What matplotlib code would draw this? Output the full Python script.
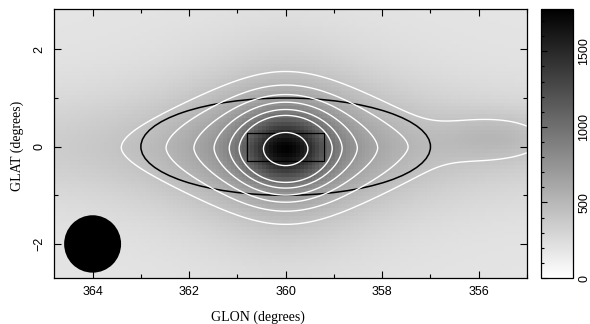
import numpy as np
import matplotlib
matplotlib.use("Agg")
import matplotlib.pyplot as plt
from matplotlib.patches import Ellipse, Rectangle, Circle
from matplotlib.ticker import MultipleLocator

# map extent (degrees)
glon_limits = [364.8, 355.0]
glat_limits = [-2.7, 2.83]
pixel_size = 0.08

# emission components
background_level = 190
plane_amp = 129
plane_width = 0.8
core_amp = 805
core_width = 0.56
core_flattening = 0.81
core_glat = -0.058
disk_amp = 644
disk_soft = 1.5
disk_scale = 1.2
disk_glat_width = 1.46
disk_glat_power = 1.6
spur_amp = 150
spur_centre = [355.6, 0.2]
spur_widths = [0.8, 0.35]

contour_levels = [420, 520, 620, 730, 870, 1010, 1500]
colour_max = 1780
colour_ticks = [0, 500, 1000, 1500]

# overlays
region_ellipse = [360.0, 0.0, 6.0, 2.0]     # centre l, b, width, height
source_box = [359.2, -0.3, 1.6, 0.58]       # l, b, width, height
beam = [364.0, -2.0, 0.59]                  # l, b, radius


def emission(glon, glat):
    """
    Returns the map intensity at the given positions.
    """
    dl = glon - 360.0
    f = background_level + plane_amp * np.exp(-glat**2 / (2 * plane_width**2))
    f = f + core_amp * np.exp(-(dl**2 + ((glat - core_glat) / core_flattening)**2)
                              / (2 * core_width**2))
    f = f + disk_amp * np.exp(-(np.sqrt(dl**2 + disk_soft**2) - disk_soft) / disk_scale
                              - (np.abs(glat - core_glat / 2) / disk_glat_width) ** disk_glat_power)
    f = f + spur_amp * np.exp(-(glon - spur_centre[0])**2 / (2 * spur_widths[0]**2)
                              - (glat - spur_centre[1])**2 / (2 * spur_widths[1]**2))
    return f


def style_ticks(ax, cax):
    ax.xaxis.set_major_locator(MultipleLocator(2))
    ax.xaxis.set_minor_locator(MultipleLocator(1))
    ax.yaxis.set_major_locator(MultipleLocator(2))
    ax.yaxis.set_minor_locator(MultipleLocator(1))
    ax.tick_params(which="both", direction="in", top=True, right=True, width=0.8)
    ax.tick_params(which="major", length=5)
    ax.tick_params(which="minor", length=2.8)
    ax.tick_params(axis="x", pad=6)
    ax.tick_params(axis="y", pad=6, labelrotation=90)
    for t in ax.get_xticklabels() + ax.get_yticklabels():
        t.set_fontfamily("Liberation Sans")
        t.set_fontsize(9)
    for t in ax.get_yticklabels():
        t.set_va("center")

    cax.set_yticks(colour_ticks)
    cax.yaxis.set_minor_locator(MultipleLocator(100))
    cax.tick_params(which="both", direction="in", left=True, right=False,
                    labelleft=False, labelright=True, labelrotation=90,
                    width=0.8, pad=4)
    cax.tick_params(which="major", length=4)
    cax.tick_params(which="minor", length=2.5)
    for t in cax.get_yticklabels():
        t.set_fontfamily("Liberation Sans")
        t.set_fontsize(9)
        t.set_va("center")


def main():
    n_l = int(round(abs(glon_limits[1] - glon_limits[0]) / pixel_size))
    n_b = int(round((glat_limits[1] - glat_limits[0]) / pixel_size))
    l_edges = np.linspace(glon_limits[0], glon_limits[1], n_l + 1)
    b_edges = np.linspace(glat_limits[0], glat_limits[1], n_b + 1)
    l_mid = 0.5 * (l_edges[1:] + l_edges[:-1])
    b_mid = 0.5 * (b_edges[1:] + b_edges[:-1])
    image = emission(l_mid[None, :], b_mid[:, None])

    l_fine = np.linspace(glon_limits[0], glon_limits[1], 400)
    b_fine = np.linspace(glat_limits[0], glat_limits[1], 240)
    smooth = emission(l_fine[None, :], b_fine[:, None])

    fig = plt.figure(figsize=(5.9, 3.24), dpi=100)
    ax = fig.add_axes([54 / 590, 46 / 324, 473 / 590, 269 / 324])
    cax = fig.add_axes([541 / 590, 46 / 324, 32 / 590, 269 / 324])

    mesh = ax.pcolormesh(l_edges, b_edges, image, cmap="gray_r",
                         vmin=0, vmax=colour_max)
    ax.contour(l_fine, b_fine, smooth, levels=contour_levels,
               colors="white", linewidths=1.0)

    ax.add_patch(Ellipse(region_ellipse[:2], region_ellipse[2], region_ellipse[3],
                         fill=False, ec="black", lw=1.1))
    ax.add_patch(Rectangle(source_box[:2], source_box[2], source_box[3],
                           fill=False, ec="black", lw=0.9))
    ax.add_patch(Circle(beam[:2], beam[2], fc="black", ec="none"))

    ax.set_xlim(glon_limits)
    ax.set_ylim(glat_limits)
    for spine in ax.spines.values():
        spine.set_linewidth(0.9)

    cbar = fig.colorbar(mesh, cax=cax)
    cbar.outline.set_linewidth(0.9)
    style_ticks(ax, cax)

    fig.text(257.5 / 590, 1 - 317 / 324, "GLON (degrees)", ha="center", va="center",
             family="Liberation Serif", fontsize=10)
    fig.text(17.5 / 590, 1 - 146 / 324, "GLAT (degrees)", ha="center", va="center",
             rotation=90, family="Liberation Serif", fontsize=10)

    fig.savefig("out.png", dpi=100)
    plt.close(fig)


if __name__ == "__main__":
    main()
